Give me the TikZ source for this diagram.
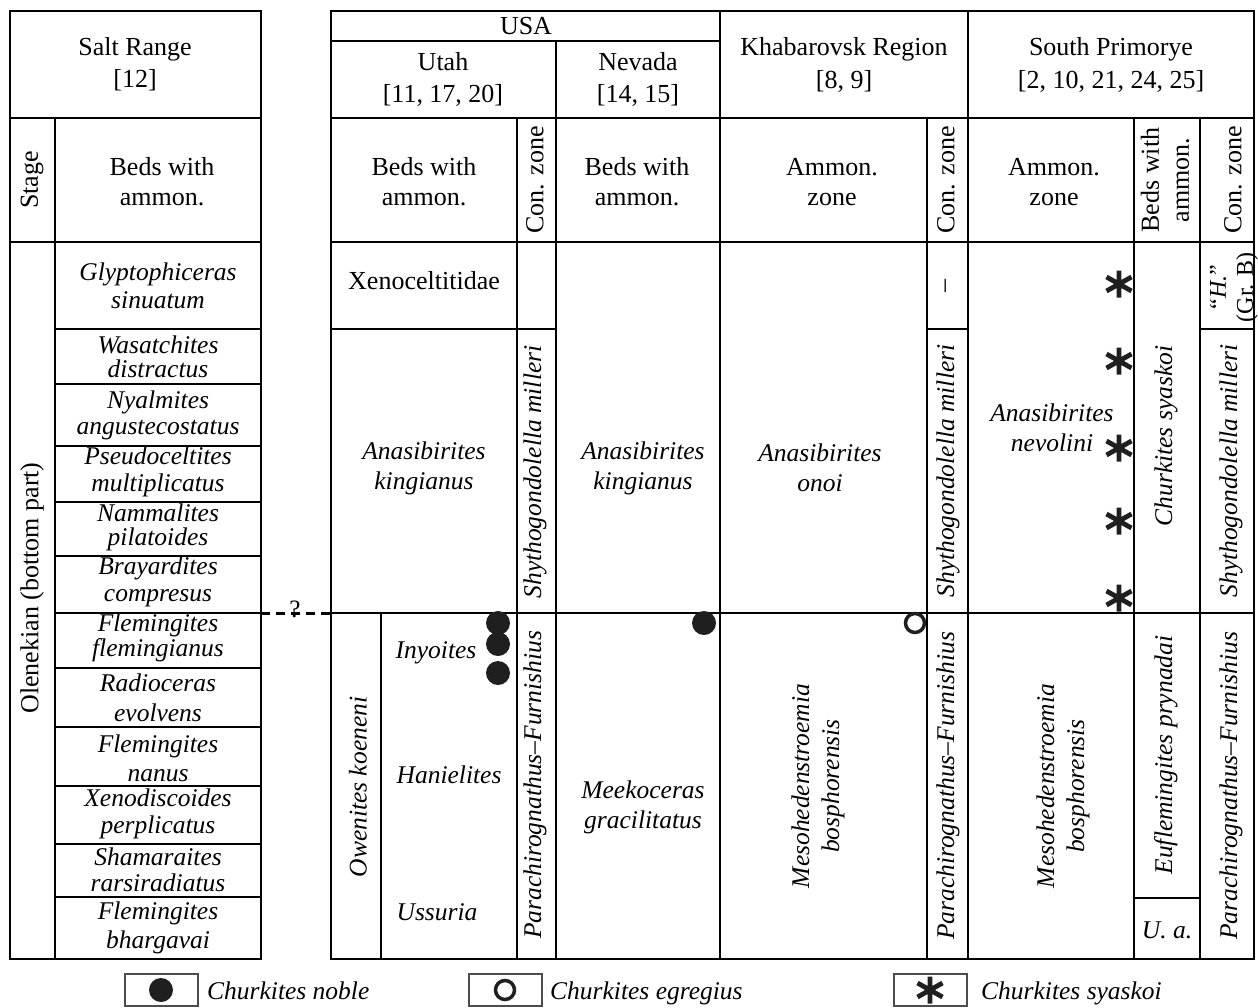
\documentclass[tikz,border=0pt]{standalone}
\usepackage{fontspec}
\setmainfont{Liberation Serif}
\tikzset{
  tbl/.style={line width=2.4pt, line cap=rect},
  up/.style={align=center, inner sep=0pt, font=\fontsize{26}{#1}\selectfont},
  up/.default=32,
  itx/.style={align=center, inner sep=0pt, font=\fontsize{25.5}{#1}\selectfont\itshape},
  itx/.default=28,
  rot/.style={rotate=90},
  dotm/.style={circle, fill=black!88, minimum size=24pt, inner sep=0pt},
  ringm/.style={circle, draw=black!88, line width=3.5pt, minimum size=19pt, inner sep=0pt},
  legbox/.style={draw=black!70, line width=2pt, minimum width=73pt, minimum height=32pt, inner sep=0pt},
  astm/.pic={\draw[line width=4.8pt, black!88] (0,-13.5)--(0,13.5) (-12.5,-7)--(12.5,7) (-12.5,7)--(12.5,-7);},
}
\begin{document}
\begin{tikzpicture}[x=1pt,y=-1pt]
\useasboundingbox (0,0) rectangle (1258,1007);
% ---------- left table ----------
\draw[tbl] (10,11) rectangle (261,959);
\draw[tbl] (10,118)--(261,118) (10,242)--(261,242) (55,118)--(55,959);
\foreach \yy in {329,384,446,502,556,613,668,727,786,844,897}
  \draw[tbl] (55,\yy)--(261,\yy);
\node[up] (sr) at (135,64) {Salt Range\\{[12]}};
\node[up,rot] (stage) at (32,180) {Stage};
\node[up,up=30] (lbeds) at (162,182) {Beds with\\ammon.};
\node[up,rot] (olen) at (32,588) {Olenekian (bottom part)};
\node[itx=28] (l1) at (158,286) {Glyptophiceras\\sinuatum};
\node[itx=24] (l2) at (158,357) {Wasatchites\\distractus};
\node[itx=26] (l3) at (158,415) {Nyalmites\\angustecostatus};
\node[itx=27] (l4) at (158,472) {Pseudoceltites\\multiplicatus};
\node[itx=24] (l5) at (158,527) {Nammalites\\pilatoides};
\node[itx=27] (l6) at (158,582) {Brayardites\\compresus};
\node[itx=25] (l7) at (158,638) {Flemingites\\flemingianus};
\node[itx=30] (l8) at (158,698) {Radioceras\\evolvens};
\node[itx=29] (l9) at (158,758) {Flemingites\\nanus};
\node[itx=27] (l10) at (158,814) {Xenodiscoides\\perplicatus};
\node[itx=26] (l11) at (158,870) {Shamaraites\\rarsiradiatus};
\node[itx=29] (l12) at (158,928) {Flemingites\\bhargavai};
% ---------- dashed link ----------
\coordinate (dl) at (261,613);
\coordinate (dr) at (331,613);
\draw[line width=3pt, dash pattern=on 9pt off 6pt] (dl)--(dr);
\node[up, font=\fontsize{25}{28}\selectfont] (qm) at (295,609) {?};
% ---------- right table ----------
\draw[tbl] (331,11) rectangle (1254,959);
\draw[tbl] (331,41)--(720,41);
\draw[tbl] (331,118)--(1254,118) (331,242)--(1254,242) (331,613)--(1254,613);
\draw[tbl] (720,11)--(720,959) (968,11)--(968,959) (556,41)--(556,959)
  (517,118)--(517,959) (927,118)--(927,959) (1134,118)--(1134,959)
  (1200,118)--(1200,959) (381,613)--(381,959);
\draw[tbl] (331,329)--(556,329) (927,329)--(968,329) (1200,329)--(1254,329)
  (1134,898)--(1200,898);
% headers
\node[up] (usa) at (526,26) {USA};
\node[up] (utah) at (443,79) {Utah\\{[11, 17, 20]}};
\node[up] (nev) at (638,79) {Nevada\\{[14, 15]}};
\node[up,up=33] (khab) at (844,65) {Khabarovsk Region\\{[8, 9]}};
\node[up,up=33] (spr) at (1111,65) {South Primorye\\{[2, 10, 21, 24, 25]}};
\node[up,up=30] (ubeds) at (424,182) {Beds with\\ammon.};
\node[up,rot] (ucon) at (535,180) {Con. zone};
\node[up,up=30] (nbeds) at (637,182) {Beds with\\ammon.};
\node[up,up=30] (kamm) at (832,182) {Ammon.\\zone};
\node[up,rot] (kcon) at (946,180) {Con. zone};
\node[up,up=30] (samm) at (1054,182) {Ammon.\\zone};
\node[up,rot,up=30] (sbeds) at (1165,180) {Beds with\\ammon.};
\node[up,rot] (scon) at (1233,180) {Con. zone};
% Utah
\node[up] (xeno) at (424,281) {Xenoceltitidae};
\node[itx=30] (uak) at (424,468) {Anasibirites\\kingianus};
\node[itx,rot] (ushy) at (535,472) {Shythogondolella milleri};
\node[itx,rot] (owen) at (358,787) {Owenites koeneni};
\node[itx] (iny) at (436,653) {Inyoites};
\node[itx] (han) at (449,775) {Hanielites};
\node[itx] (uss) at (437,912) {Ussuria};
\node[itx,rot] (upar) at (535,785) {Parachirognathus–Furnishius};
% Nevada
\node[itx=30] (nak) at (643,468) {Anasibirites\\kingianus};
\node[itx=30] (nmee) at (643,807) {Meekoceras\\gracilitatus};
% Khabarovsk
\node[itx=30] (kao) at (820,468) {Anasibirites\\onoi};
\node[up,rot] (kdash) at (948,286) {–};
\node[itx,rot] (kshy) at (948,471) {Shythogondolella milleri};
\node[itx,rot,itx=30] (kmes) at (818,786) {Mesohedenstroemia\\bosphorensis};
\node[itx,rot] (kpar) at (948,786) {Parachirognathus–Furnishius};
% South Primorye
\node[itx=30] (san) at (1052,428) {Anasibirites\\nevolini};
\node[itx,rot,itx=30] (smes) at (1063,786) {Mesohedenstroemia\\bosphorensis};
\node[itx,rot] (schu) at (1166,436) {Churkites syaskoi};
\node[itx,rot] (seuf) at (1166,755) {Euflemingites prynadai};
\node[itx] (sua) at (1167,930) {U. a.};
\node[up,rot,font=\fontsize{24}{27}\selectfont] (sh) at (1234,287) {“\textit{H.}”\\(Gr. B)};
\node[itx,rot] (sshy) at (1231,471) {Shythogondolella milleri};
\node[itx,rot] (spar) at (1231,786) {Parachirognathus–Furnishius};
% markers
\node[dotm] (d1) at (498,623) {};
\node[dotm] (d2) at (498,644) {};
\node[dotm] (d3) at (498,673) {};
\node[dotm] (d4) at (704,623) {};
\node[ringm] (r1) at (915,623) {};
\pic (a1) at (1119,284) {astm};
\pic (a2) at (1119,361) {astm};
\pic (a3) at (1119,448) {astm};
\pic (a4) at (1119,521) {astm};
\pic (a5) at (1119,598) {astm};
% legend
\node[legbox] (lb1) at (161,990) {};
\node[dotm] (ld) at (lb1) {};
\node[itx, anchor=base west] (lt1) at (207,999) {Churkites noble};
\node[legbox] (lb2) at (505,990) {};
\node[ringm] (lr) at (lb2) {};
\node[itx, anchor=base west] (lt2) at (550,999) {Churkites egregius};
\node[legbox] (lb3) at (930,990) {};
\pic (la) at (lb3) {astm};
\node[itx, anchor=base west] (lt3) at (981,999) {Churkites syaskoi};
\end{tikzpicture}
\end{document}
